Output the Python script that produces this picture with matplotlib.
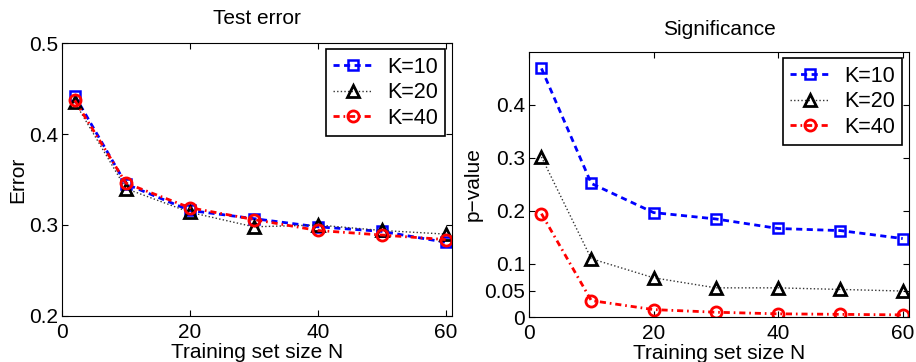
import matplotlib.pyplot as plt
import numpy as np

plt.rcParams['font.family'] = ['Liberation Sans', 'DejaVu Sans']

# training set sizes
N = [2, 10, 20, 30, 40, 50, 60]

# test error
err_k10 = [0.442, 0.345, 0.316, 0.307, 0.298, 0.293, 0.281]
err_k20 = [0.435, 0.340, 0.314, 0.298, 0.300, 0.294, 0.290]
err_k40 = [0.437, 0.346, 0.319, 0.306, 0.294, 0.289, 0.284]

# p-values
p_k10 = [0.469, 0.252, 0.197, 0.185, 0.167, 0.163, 0.148]
p_k20 = [0.302, 0.110, 0.074, 0.055, 0.055, 0.052, 0.049]
p_k40 = [0.195, 0.031, 0.014, 0.009, 0.006, 0.005, 0.004]

labels = ['K=10', 'K=20', 'K=40']
err_yticks = [0.2, 0.3, 0.4, 0.5]
p_yticks = [0, 0.05, 0.1, 0.2, 0.3, 0.4]
xticks = [0, 20, 40, 60]

fig = plt.figure(figsize=(9.16, 3.62), dpi=100)
ax1 = fig.add_axes([0.0677, 0.1271, 0.4257, 0.7541])
ax2 = fig.add_axes([0.5775, 0.1243, 0.4148, 0.7321])

styles = [
    dict(color='#0000ff', dashes=(2.2, 1.6), marker='s', lw=2.0, ms=7, mew=1.8, mfc='none'),
    dict(color='#333333', dashes=(1, 1.6), marker='^', lw=1.0, ms=8, mew=2.0, mfc='none', mec='black'),
    dict(color='#ff0000', dashes=(2.2, 1.4, 0.6, 1.4), marker='o', lw=2.0, ms=8, mew=2.0, mfc='none'),
]

for ax, series in [(ax1, [err_k10, err_k20, err_k40]), (ax2, [p_k10, p_k20, p_k40])]:
    for y, lab, st in zip(series, labels, styles):
        ax.plot(N, y, label=lab, **st)
    ax.set_xlim(0, 61)
    ax.set_xticks(xticks)
    ax.tick_params(direction='in', top=True, right=True, labelsize=15, length=4, pad=3)
    ax.tick_params(axis='x', pad=5)
    ax.set_xlabel('Training set size N', fontsize=15, labelpad=1)
    leg = ax.legend(loc='upper right', fontsize=15.5, fancybox=False, framealpha=1,
                    edgecolor='black', handlelength=1.8, borderaxespad=0.3,
                    labelspacing=0.2, handletextpad=0.7, borderpad=0.35)
    leg.get_frame().set_linewidth(1.2)

ax1.set_ylim(0.2, 0.5)
ax1.set_yticks(err_yticks)
ax1.set_yticklabels(['0.2', '0.3', '0.4', '0.5'])
ax1.set_ylabel('Error', fontsize=15, labelpad=1)
ax1.set_title('Test error', fontsize=15, pad=14)

ax2.set_ylim(0, 0.5)
ax2.set_yticks(p_yticks)
ax2.set_yticklabels(['0', '0.05', '0.1', '0.2', '0.3', '0.4'])
ax2.set_ylabel('p\u2212value', fontsize=15, labelpad=1)
ax2.set_title('Significance', fontsize=15, pad=12)

fig.savefig('out.png', dpi=100)
